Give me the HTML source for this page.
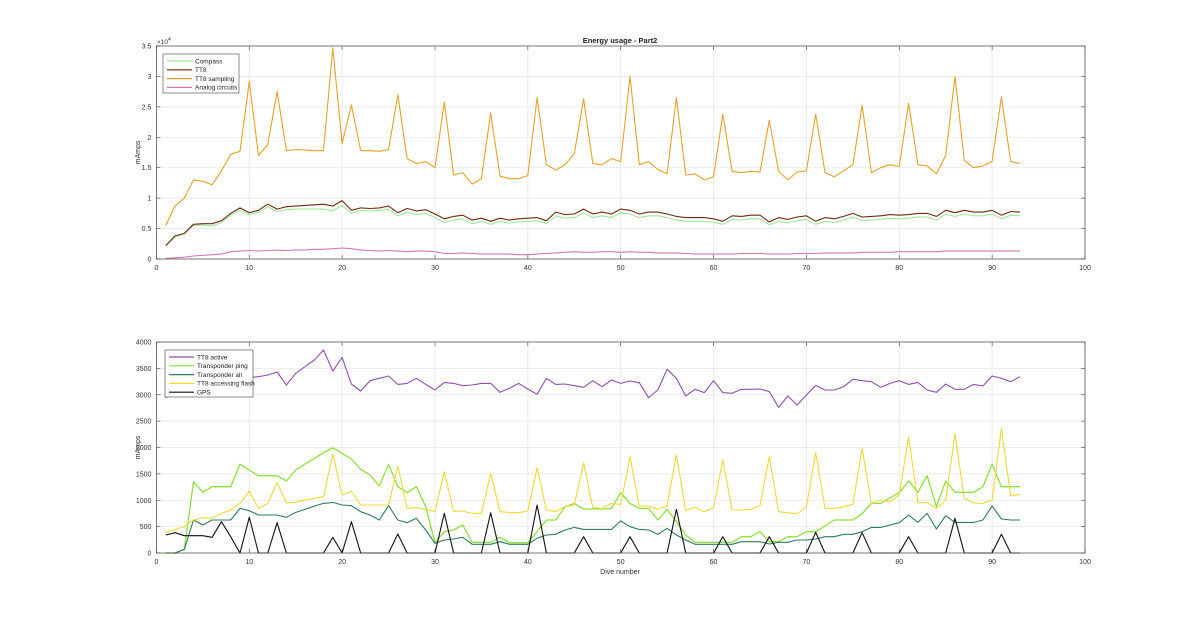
<!DOCTYPE html>
<html><head><meta charset="utf-8"><style>
html,body{margin:0;padding:0;background:#fff;}
svg{display:block;font-family:"Liberation Sans",sans-serif;}
</style></head><body>
<svg id="chart" width="1200" height="622" viewBox="0 0 1200 622" xmlns="http://www.w3.org/2000/svg">
<rect width="1200" height="622" fill="#fff"/>
<g id="topchart"></g><g id="botchart"></g>
</svg>
<script>
const dives = [];for(let i=1;i<=93;i++)dives.push(i);
const xTicks=[0,10,20,30,40,50,60,70,80,90,100];
const topYTicks=[0,0.5,1,1.5,2,2.5,3,3.5];
const topYTickLabels=["0","0.5","1","1.5","2","2.5","3","3.5"];
const botYTicks=[0,500,1000,1500,2000,2500,3000,3500,4000];
const compass=[0.21,0.36,0.41,0.55,0.56,0.54,0.6,0.72,0.8,0.73,0.77,0.86,0.78,0.81,0.82,0.82,0.82,0.82,0.79,0.88,0.75,0.8,0.79,0.8,0.82,0.71,0.77,0.73,0.75,0.68,0.6,0.64,0.66,0.58,0.62,0.57,0.62,0.59,0.61,0.62,0.63,0.58,0.71,0.67,0.68,0.76,0.68,0.71,0.68,0.76,0.74,0.68,0.71,0.71,0.68,0.64,0.62,0.62,0.62,0.6,0.57,0.65,0.64,0.66,0.66,0.56,0.62,0.59,0.63,0.65,0.57,0.62,0.6,0.64,0.69,0.63,0.64,0.65,0.67,0.66,0.67,0.69,0.69,0.64,0.74,0.7,0.74,0.71,0.71,0.74,0.66,0.72,0.71];
const tt8=[0.22,0.38,0.42,0.57,0.58,0.58,0.63,0.75,0.84,0.76,0.8,0.9,0.82,0.86,0.87,0.88,0.89,0.9,0.87,0.96,0.8,0.84,0.83,0.84,0.87,0.76,0.83,0.79,0.81,0.74,0.66,0.7,0.72,0.64,0.67,0.62,0.67,0.64,0.66,0.67,0.68,0.63,0.77,0.73,0.74,0.82,0.74,0.77,0.74,0.82,0.8,0.74,0.77,0.77,0.74,0.7,0.68,0.68,0.68,0.66,0.62,0.71,0.7,0.72,0.72,0.61,0.68,0.65,0.69,0.71,0.62,0.68,0.66,0.7,0.75,0.69,0.7,0.71,0.73,0.72,0.73,0.75,0.75,0.7,0.8,0.76,0.8,0.77,0.77,0.8,0.72,0.78,0.77];
const tt8Sampling=[0.55,0.87,1.0,1.3,1.28,1.22,1.45,1.72,1.77,2.92,1.7,1.88,2.75,1.78,1.8,1.79,1.78,1.78,3.47,1.9,2.53,1.78,1.78,1.77,1.8,2.7,1.65,1.57,1.6,1.5,2.58,1.38,1.42,1.23,1.32,2.4,1.36,1.32,1.32,1.37,2.65,1.55,1.46,1.55,1.73,2.63,1.57,1.55,1.65,1.6,3.0,1.55,1.6,1.47,1.4,2.65,1.38,1.4,1.3,1.35,2.38,1.44,1.42,1.44,1.43,2.28,1.44,1.3,1.43,1.45,2.38,1.42,1.35,1.45,1.55,2.53,1.42,1.5,1.55,1.52,2.56,1.55,1.53,1.4,1.7,3.0,1.62,1.5,1.53,1.6,2.66,1.6,1.57];
const analog=[0.01,0.02,0.03,0.05,0.06,0.07,0.08,0.12,0.13,0.14,0.13,0.14,0.145,0.14,0.15,0.15,0.16,0.16,0.17,0.18,0.17,0.15,0.14,0.13,0.14,0.13,0.12,0.13,0.13,0.12,0.09,0.09,0.1,0.09,0.08,0.08,0.08,0.08,0.07,0.07,0.08,0.09,0.1,0.11,0.12,0.11,0.11,0.12,0.12,0.11,0.12,0.11,0.11,0.1,0.1,0.1,0.09,0.08,0.08,0.08,0.08,0.08,0.09,0.09,0.09,0.08,0.08,0.08,0.09,0.09,0.09,0.1,0.1,0.1,0.1,0.11,0.11,0.11,0.11,0.12,0.12,0.12,0.12,0.12,0.13,0.13,0.13,0.13,0.13,0.13,0.13,0.13,0.13];
const tt8Active=[2950,3000,3050,3100,3150,3200,3250,3280,3290,3324,3343,3374,3431,3185,3406,3532,3659,3848,3450,3709,3204,3071,3267,3311,3355,3197,3216,3311,3197,3090,3235,3216,3172,3185,3216,3216,3046,3122,3216,3109,3008,3311,3197,3204,3172,3141,3267,3153,3280,3216,3261,3229,2945,3090,3482,3311,2976,3103,3040,3267,3040,3027,3103,3103,3109,3058,2761,2976,2806,2995,3178,3090,3090,3153,3292,3267,3248,3141,3216,3267,3197,3235,3090,3046,3204,3103,3103,3197,3166,3355,3311,3248,3343];
const transponderPing=[0,0,69,1352,1150,1257,1257,1257,1681,1573,1466,1466,1466,1365,1573,1687,1794,1902,1997,1889,1782,1586,1478,1270,1681,1257,1143,1257,878,196,404,436,531,202,202,202,297,196,196,196,404,625,625,878,941,834,834,834,846,1143,941,846,846,625,827,594,341,202,202,202,202,202,309,309,404,215,215,309,309,404,404,512,625,625,625,745,941,941,1049,1143,1365,1150,1466,878,1365,1150,1150,1150,1257,1681,1257,1257,1257];
const transponderAll=[0,0,69,625,531,625,625,625,846,802,720,720,720,676,770,827,890,941,960,910,897,783,720,625,897,625,575,657,436,183,246,265,297,164,164,164,215,164,164,164,278,341,354,436,486,448,448,448,448,606,499,448,436,354,467,341,246,164,164,164,164,164,215,215,215,170,202,202,246,246,265,309,309,354,354,404,486,486,531,575,720,581,751,455,707,581,581,581,625,890,644,625,625];
const tt8Flash=[385,448,499,625,670,657,751,815,941,1175,846,941,1333,954,960,1005,1036,1068,1877,1099,1175,910,910,910,910,1649,846,859,827,783,1542,783,796,751,751,1510,783,770,764,796,1617,815,783,878,910,1712,859,846,941,922,1826,891,891,827,891,1858,802,865,783,859,1763,815,815,827,897,1826,783,764,739,878,1902,846,846,878,922,1984,941,1005,973,1099,2205,954,954,846,1005,2256,1036,954,941,1005,2363,1080,1112];
const gps=[341,385,328,328,328,297,594,309,0,676,0,0,575,0,0,0,0,0,297,0,594,0,0,0,0,360,0,0,0,0,751,0,0,0,0,764,0,0,0,0,910,0,0,0,0,309,0,0,0,0,309,0,0,0,0,827,0,0,0,0,309,0,0,0,0,309,0,0,0,0,391,0,0,0,0,385,0,0,0,0,309,0,0,0,0,657,0,0,0,0,354,0,0];

const NS="http://www.w3.org/2000/svg";
function mk(parent,tag,attrs){const e=document.createElementNS(NS,tag);for(const k in attrs)e.setAttribute(k,attrs[k]);parent.appendChild(e);return e;}
const X0=156.4,X1=1085;
function xs(v){return X0+(X1-X0)*v/100;}

function axes(g,y0,y1,ymax,yticks,ylabels,name){
  const ys=v=>y0-(y0-y1)*v/ymax;
  const bg=mk(g,'rect',{x:X0,y:y1,width:X1-X0,height:y0-y1,fill:'#fff'});
  
  
  xTicks.forEach(t=>{
    const l=mk(g,'line',{x1:xs(t),x2:xs(t),y1:y1,y2:y0,stroke:'#e6e6e6','stroke-width':0.8});
    
    
    const tx=mk(g,'text',{x:xs(t),y:y0+11,'font-size':7,'text-anchor':'middle',fill:'#333'});
    tx.textContent=t;
    
    
    mk(g,'line',{x1:xs(t),x2:xs(t),y1:y0,y2:y0-4,stroke:'#444','stroke-width':0.6});
    mk(g,'line',{x1:xs(t),x2:xs(t),y1:y1,y2:y1+4,stroke:'#444','stroke-width':0.6});
  });
  yticks.forEach((t,i)=>{
    const l=mk(g,'line',{x1:X0,x2:X1,y1:ys(t),y2:ys(t),stroke:'#e6e6e6','stroke-width':0.8});
    
    
    const tx=mk(g,'text',{x:X0-5,y:ys(t)+2.5,'font-size':7,'text-anchor':'end',fill:'#333'});
    tx.textContent=ylabels[i];
    
    
    mk(g,'line',{x1:X0,x2:X0+4,y1:ys(t),y2:ys(t),stroke:'#444','stroke-width':0.6});
    mk(g,'line',{x1:X1,x2:X1-4,y1:ys(t),y2:ys(t),stroke:'#444','stroke-width':0.6});
  });
  const yl=mk(g,'text',{x:0,y:0,'font-size':7,'text-anchor':'middle',fill:'#333',transform:`translate(140,${(y0+y1)/2}) rotate(-90)`});
  yl.textContent='mAmps';
  
  
  return ys;
}
function series(g,vals,ys,color,name,w){
  const pts=vals.map((v,i)=>xs(dives[i]).toFixed(1)+','+ys(v).toFixed(1)).join(' ');
  const p=mk(g,'polyline',{points:pts,fill:'none',stroke:color,'stroke-width':w||1.1,'stroke-linejoin':'round'});
  
  
}
function frame(g,y0,y1,name){
  const r=mk(g,'rect',{x:X0,y:y1,width:X1-X0,height:y0-y1,fill:'none',stroke:'#444','stroke-width':0.7});
  
  
}
function legend(g,x,y,w,h,entries,name){
  const lg=mk(g,'g',{});
  
  
  mk(lg,'rect',{x:x,y:y,width:w,height:h,fill:'#fff',stroke:'#444','stroke-width':0.6});
  entries.forEach((e,i)=>{
    const ey=y+7+i*8.8;
    const it=mk(lg,'g',{});
    
    
    mk(it,'line',{x1:x+4,x2:x+29,y1:ey,y2:ey,stroke:e[1],'stroke-width':1.2});
    const t=mk(it,'text',{x:x+32,y:ey+2.3,'font-size':6.5,fill:'#222'});
    t.textContent=e[0];
  });
}

const topG=document.getElementById('topchart');


const ysT=axes(topG,259,46,3.5,topYTicks,topYTickLabels,'top');
series(topG,compass,ysT,'#9ee69a','compass-line');
series(topG,tt8,ysT,'#6e2a12','tt8-line');
series(topG,tt8Sampling,ysT,'#e8a126','tt8-sampling-line');
series(topG,analog,ysT,'#d676b6','analog-circuits-line');
frame(topG,259,46,'top');
const titleEl=mk(topG,'text',{x:620,y:43,'font-size':7.5,'font-weight':'bold','text-anchor':'middle',fill:'#222'});
titleEl.textContent='Energy usage - Part2';


const expEl=mk(topG,'text',{x:157,y:44,'font-size':6.5,fill:'#333'});
expEl.textContent='×10';
const expSup=mk(expEl,'tspan',{'font-size':5,dy:-3});
expSup.textContent='4';


legend(topG,163,54,76,39,[['Compass','#9ee69a','compass'],['TT8','#6e2a12','tt8'],['TT8 sampling','#e8a126','tt8-sampling'],['Analog circuits','#d676b6','analog-circuits']],'top');

const botG=document.getElementById('botchart');


const ysB=axes(botG,553,342,4000,botYTicks,botYTicks.map(String),'bottom');
series(botG,tt8Active,ysB,'#8e4fae','tt8-active-line');
series(botG,transponderPing,ysB,'#8fe03e','transponder-ping-line',1.3);
series(botG,transponderAll,ysB,'#2f7a62','transponder-all-line');
series(botG,tt8Flash,ysB,'#f2d832','tt8-accessing-flash-line');
series(botG,gps,ysB,'#111','gps-line');
frame(botG,553,342,'bottom');
const xlEl=mk(botG,'text',{x:620,y:574,'font-size':7,'text-anchor':'middle',fill:'#333'});
xlEl.textContent='Dive number';


legend(botG,165,350,88,47,[['TT8 active','#8e4fae','tt8-active'],['Transponder ping','#8fe03e','transponder-ping'],['Transponder all','#2f7a62','transponder-all'],['TT8 accessing flash','#f2d832','tt8-accessing-flash'],['GPS','#111','gps']],'bottom');
</script>
</body></html>
